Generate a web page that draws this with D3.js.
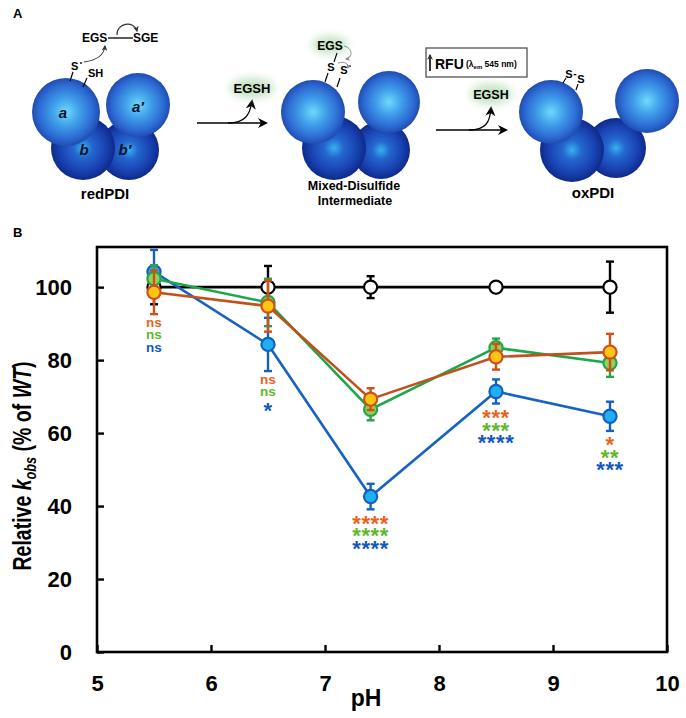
<!DOCTYPE html>
<html>
<head>
<meta charset="utf-8">
<script src="https://cdn.jsdelivr.net/npm/d3@7"></script>
<style>
  body { margin: 0; background: #fff; }
  svg { display: block; font-family: "Liberation Sans", Arial, sans-serif; }
</style>
</head>
<body>
<div id="figure"></div>
<script>
"use strict";

// Panel B values (relative k_obs, % of WT)
const phValues = [5.5, 6.5, 7.4, 8.5, 9.5];
const wtMeans = [100, 100, 100, 100, 100];
const wtErrors = [4.7, 5.8, 3, 0.5, 7];
const blueMeans = [104.2, 84.3, 42.6, 71.4, 64.6];
const blueErrors = [6, 7.3, 3.5, 3.3, 4];
const greenMeans = [102.3, 95.8, 66.5, 83.4, 79.2];
const greenErrors = [3.7, 6.5, 3, 2.5, 3.8];
const orangeMeans = [98.6, 94.8, 69.3, 80.9, 82.2];
const orangeErrors = [6, 7, 3, 3.5, 5];

// significance marks under each pH point
const orangeSig = ["ns", "ns", "****", "***", "*"];
const greenSig = ["ns", "ns", "****", "***", "**"];
const blueSig = ["ns", "*", "****", "****", "***"];

const xTicks = [5, 6, 7, 8, 9, 10];
const yTicks = [0, 20, 40, 60, 80, 100];

const W = 686, H = 718;

const svg = d3.select("#figure")
    .append("svg")
    .attr("width", W)
    .attr("height", H);

drawSchematic(svg);
drawChart(svg);

function drawSchematic(svg) {
    const defs = svg.append("defs");

    const gradients = [
        { id: "sphereTop", stops: [[0, "#6edbfb"], [0.4, "#40a0ea"], [0.8, "#2c6ad3"], [1, "#204cb0"]] },
        { id: "sphereBottom", stops: [[0, "#36b2f1"], [0.3, "#2467ce"], [0.72, "#1942b2"], [1, "#0e2a8a"]] }
    ];
    gradients.forEach(gr => {
        const g = defs.append("radialGradient")
            .attr("id", gr.id)
            .attr("cx", "50%").attr("cy", "50%").attr("r", "50%");
        gr.stops.forEach(s => g.append("stop").attr("offset", s[0]).attr("stop-color", s[1]));
    });

    defs.append("filter")
        .attr("id", "glow")
        .attr("x", "-50%").attr("y", "-50%").attr("width", "200%").attr("height", "200%")
        .append("feGaussianBlur").attr("stdDeviation", 4);

    const marker = (id, color, size) => defs.append("marker")
        .attr("id", id)
        .attr("viewBox", "0 0 10 10")
        .attr("refX", 8).attr("refY", 5)
        .attr("markerUnits", "userSpaceOnUse")
        .attr("markerWidth", size).attr("markerHeight", size)
        .attr("orient", "auto")
        .append("path")
        .attr("d", "M0,0 L10,5 L0,10 L3,5 Z")
        .attr("fill", color);
    marker("arrowHead", "#000", 10);
    marker("arrowSmall", "#333", 6);
    marker("arrowGray", "#888", 5);

    const g = svg.append("g");

    // panel letters
    g.append("text").attr("x", 13).attr("y", 18).attr("font-size", 13).attr("font-weight", "bold").text("A");
    g.append("text").attr("x", 13).attr("y", 237).attr("font-size", 13).attr("font-weight", "bold").text("B");

    const complexes = [
        [
            { cx: 129, cy: 150, r: 30, kind: "sphereBottom", label: "b\u2032", lx: 125, ly: 150 },
            { cx: 83, cy: 148, r: 32, kind: "sphereBottom", label: "b", lx: 84, ly: 150 },
            { cx: 138, cy: 105, r: 32, kind: "sphereTop", label: "a\u2032", lx: 138, ly: 107 },
            { cx: 66, cy: 112, r: 34, kind: "sphereTop", label: "a", lx: 63, ly: 113 }
        ],
        [
            { cx: 381, cy: 150, r: 29, kind: "sphereBottom" },
            { cx: 334, cy: 148, r: 32, kind: "sphereBottom" },
            { cx: 389, cy: 102, r: 31, kind: "sphereTop" },
            { cx: 313, cy: 112, r: 32, kind: "sphereTop" }
        ],
        [
            { cx: 616, cy: 148, r: 30, kind: "sphereBottom" },
            { cx: 572, cy: 150, r: 32, kind: "sphereBottom" },
            { cx: 647, cy: 101, r: 32, kind: "sphereTop" },
            { cx: 551, cy: 112, r: 32, kind: "sphereTop" }
        ]
    ];

    complexes.forEach(spheres => {
        spheres.forEach(s => {
            g.append("circle")
                .attr("cx", s.cx).attr("cy", s.cy).attr("r", s.r)
                .attr("fill", `url(#${s.kind})`);
        });
        spheres.filter(s => s.label).forEach(s => {
            g.append("text")
                .attr("x", s.lx).attr("y", s.ly + 5)
                .attr("text-anchor", "middle")
                .attr("font-size", 15)
                .attr("font-weight", "bold")
                .attr("font-style", "italic")
                .attr("fill", "#08102a")
                .text(s.label);
        });
    });

    const bold = (x, y, size, txt, anchor) => g.append("text")
        .attr("x", x).attr("y", y)
        .attr("font-size", size)
        .attr("font-weight", "bold")
        .attr("text-anchor", anchor || "start")
        .text(txt);
    const path = (d, width, color, end) => {
        const p = g.append("path")
            .attr("d", d)
            .attr("fill", "none")
            .attr("stroke", color || "#000")
            .attr("stroke-width", width);
        if (end) p.attr("marker-end", `url(#${end})`);
        return p;
    };
    const glow = (cx, cy, rx, ry) => g.append("ellipse")
        .attr("cx", cx).attr("cy", cy).attr("rx", rx).attr("ry", ry)
        .attr("fill", "#c4e2c4")
        .attr("filter", "url(#glow)");

    // redPDI substrate
    bold(82, 42, 12, "EGS");
    path("M108,38 L133,38", 1.3);
    bold(133, 42, 12, "SGE");
    path("M117,35 C116,23 134,20 137,31", 1.1, "#333", "arrowSmall");
    path("M84,62 C98,60 104,55 105,46", 1.1, "#333", "arrowSmall");
    bold(71, 70, 11, "S");
    g.append("circle").attr("cx", 81).attr("cy", 63).attr("r", 0.9).attr("fill", "#000");
    bold(88, 77, 11, "SH");
    path("M70,81 L73,72", 1.2);
    path("M83,87 L87,78", 1.2);
    bold(105, 199, 15, "redPDI", "middle");

    // first arrow
    path("M197,123 L266,123", 1.4, "#000", "arrowHead");
    path("M228,123 C245,123 250,115 252,101", 1.3, "#000", "arrowHead");
    glow(252, 88, 22, 10);
    bold(252, 93, 13, "EGSH", "middle");

    // mixed disulfide intermediate
    glow(330, 45, 18, 9);
    bold(330, 50, 12, "EGS", "middle");
    path("M337,53 L334,62", 1.1);
    bold(331, 71, 11, "S", "middle");
    bold(344, 74, 11, "S", "middle");
    g.append("circle").attr("cx", 350).attr("cy", 66).attr("r", 0.9).attr("fill", "#000");
    path("M344,46 C353,48 353,58 346,59", 0.9, "#888", "arrowGray");
    path("M338,63 C345,61 349,64 348,68", 0.9, "#888", "arrowGray");
    path("M325,82 L328,73", 1.2);
    path("M337,87 L340,78", 1.2);
    bold(354, 190, 12.5, "Mixed-Disulfide", "middle");
    bold(355, 205, 12.5, "Intermediate", "middle");

    // fluorescence box
    g.append("rect")
        .attr("x", 426).attr("y", 48).attr("width", 101).attr("height", 29)
        .attr("fill", "none").attr("stroke", "#444").attr("stroke-width", 1.2);
    path("M430,71 L430,55", 1.6, "#000", "arrowSmall");
    bold(435, 69, 14, "RFU");
    const rfu = g.append("text").attr("x", 466).attr("y", 67).attr("font-size", 8.5).attr("font-weight", "bold");
    rfu.append("tspan").text("(\u03bb");
    rfu.append("tspan").attr("font-size", 6).attr("dy", 2).text("em");
    rfu.append("tspan").attr("dy", -2).text(" 545 nm)");

    // second arrow
    path("M436,130 L506,130", 1.4, "#000", "arrowHead");
    path("M469,130 C486,130 490,122 491,108", 1.3, "#000", "arrowHead");
    glow(491, 94, 21, 10);
    bold(491, 99, 12.5, "EGSH", "middle");

    // oxPDI
    bold(569, 78, 11, "S", "middle");
    bold(575, 77, 10, "-", "middle");
    bold(581, 83, 11, "S", "middle");
    path("M563,83 L566,78", 1.2);
    path("M576,90 L578,84", 1.2);
    bold(593, 198, 15, "oxPDI", "middle");
}

function drawChart(svg) {
    const x = d3.scaleLinear().domain([5, 10]).range([97, 667]);
    const y = d3.scaleLinear().domain([0, 111]).range([652, 247]);

    const g = svg.append("g");

    const series = [
        { means: wtMeans, errors: wtErrors, line: "#000000", fill: "#ffffff", stroke: "#000000" },
        { means: blueMeans, errors: blueErrors, line: "#1563c2", fill: "#1eb0f2", stroke: "#1560bd" },
        { means: greenMeans, errors: greenErrors, line: "#1ea64a", fill: "#92d05a", stroke: "#25a545" },
        { means: orangeMeans, errors: orangeErrors, line: "#c0501c", fill: "#ffc514", stroke: "#d0501a" }
    ];

    const line = d3.line()
        .x(d => x(d.ph))
        .y(d => y(d.mean));

    series.forEach(s => {
        const pts = phValues.map((ph, i) => ({ ph: ph, mean: s.means[i], err: s.errors[i] }));
        const sg = g.append("g");

        sg.append("path")
            .datum(pts)
            .attr("d", line)
            .attr("fill", "none")
            .attr("stroke", s.line)
            .attr("stroke-width", 2.6);

        const eb = sg.selectAll(".err")
            .data(pts)
            .enter().append("g")
            .attr("stroke", s.stroke)
            .attr("stroke-width", 2.4);
        eb.append("line")
            .attr("x1", d => x(d.ph)).attr("x2", d => x(d.ph))
            .attr("y1", d => y(d.mean - d.err)).attr("y2", d => y(d.mean + d.err));
        [-1, 1].forEach(sign => {
            eb.append("line")
                .attr("x1", d => x(d.ph) - 4).attr("x2", d => x(d.ph) + 4)
                .attr("y1", d => y(d.mean + sign * d.err)).attr("y2", d => y(d.mean + sign * d.err));
        });

        sg.selectAll("circle")
            .data(pts)
            .enter().append("circle")
            .attr("cx", d => x(d.ph))
            .attr("cy", d => y(d.mean))
            .attr("r", 6.6)
            .attr("fill", s.fill)
            .attr("stroke", s.stroke)
            .attr("stroke-width", 2.2);
    });

    // significance stacks
    const sigRows = [
        { labels: orangeSig, color: "#e8631c" },
        { labels: greenSig, color: "#5fb82c" },
        { labels: blueSig, color: "#1259c3" }
    ];
    const colored = series.slice(1);
    phValues.forEach((ph, i) => {
        const lowest = d3.max(colored, s => y(s.means[i] - s.errors[i]));
        sigRows.forEach((row, k) => {
            const label = row.labels[i];
            const center = lowest + 9 + k * 12.5;
            const star = label.indexOf("*") >= 0;
            g.append("text")
                .attr("x", x(ph))
                .attr("y", star ? center + 12.5 : center + 3.6)
                .attr("text-anchor", "middle")
                .attr("font-size", star ? 22 : 13.5)
                .attr("font-weight", "bold")
                .attr("fill", row.color)
                .attr("letter-spacing", star ? 0.6 : 0)
                .text(label);
        });
    });

    // axes with inward ticks
    const yAxis = g.append("g")
        .attr("transform", `translate(${x.range()[0]},0)`)
        .call(d3.axisLeft(y).tickValues(yTicks).tickSize(-7).tickPadding(25).tickFormat(d3.format("d")));
    const xAxis = g.append("g")
        .attr("transform", `translate(0,${y.range()[0]})`)
        .call(d3.axisBottom(x).tickValues(xTicks).tickSize(-7).tickPadding(23).tickFormat(d3.format("d")));
    [yAxis, xAxis].forEach(a => {
        a.select(".domain").remove();
        a.selectAll(".tick line").attr("stroke", "#000").attr("stroke-width", 2.4);
        a.selectAll(".tick text")
            .attr("font-family", "Liberation Sans, Arial, sans-serif")
            .attr("font-size", 22)
            .attr("font-weight", "bold")
            .attr("fill", "#000");
    });

    g.append("rect")
        .attr("x", x.range()[0])
        .attr("y", y.range()[1])
        .attr("width", x.range()[1] - x.range()[0])
        .attr("height", y.range()[0] - y.range()[1])
        .attr("fill", "none")
        .attr("stroke", "#000")
        .attr("stroke-width", 2.6);

    // axis titles
    g.append("text")
        .attr("x", (x.range()[0] + x.range()[1]) / 2 - 16)
        .attr("y", 706)
        .attr("text-anchor", "middle")
        .attr("font-size", 23)
        .attr("font-weight", "bold")
        .text("pH");

    // the original title is set in a narrow face: squeeze along its run
    const yt = g.append("text")
        .attr("transform", "translate(31,466) rotate(-90) scale(0.75,1)")
        .attr("text-anchor", "middle")
        .attr("font-size", 26)
        .attr("font-weight", "bold");
    yt.append("tspan").text("Relative ");
    yt.append("tspan").attr("font-style", "italic").text("k");
    yt.append("tspan").attr("font-style", "italic").attr("font-size", 17).attr("dy", 5).text("obs");
    yt.append("tspan").attr("dy", -5).text(" (% of ");
    yt.append("tspan").attr("font-style", "italic").text("WT");
    yt.append("tspan").text(")");
}
</script>
</body>
</html>
